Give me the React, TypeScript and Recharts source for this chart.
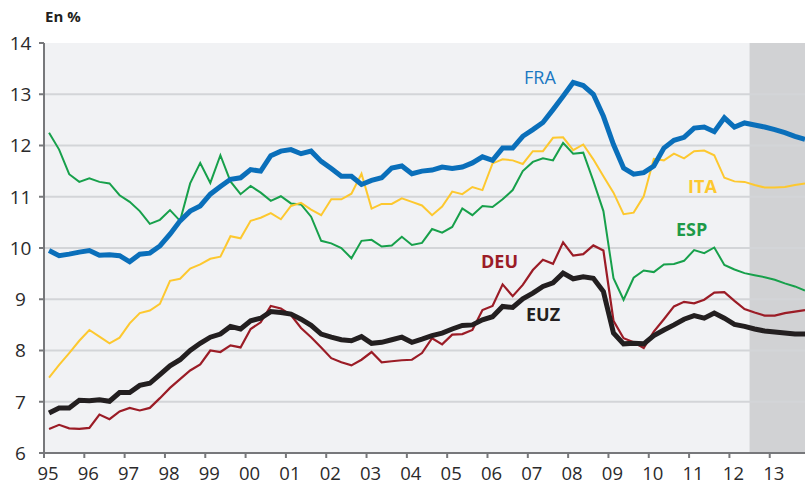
import React from "react";
import {
  LineChart,
  Line,
  XAxis,
  YAxis,
  CartesianGrid,
  ReferenceArea,
  ReferenceLine,
} from "recharts";

// quarterly unemployment rates, 1995Q1 - 2013Q4 (forecast from 2012Q3)
const START_YEAR = 1995;
const YEAR_TICKS = [
  1995, 1996, 1997, 1998, 1999, 2000, 2001, 2002, 2003, 2004, 2005, 2006,
  2007, 2008, 2009, 2010, 2011, 2012, 2013,
];
const Y_TICKS = [6, 7, 8, 9, 10, 11, 12, 13, 14];
const GRID_VALUES = [7, 8, 9, 10, 11, 12, 13];
const FORECAST_START = 2012.5;
const X_END = 2013.875;

const FRA = [
  9.95, 9.85, 9.88, 9.92, 9.95, 9.86, 9.87, 9.85, 9.73, 9.88, 9.9, 10.04,
  10.27, 10.53, 10.72, 10.82, 11.05, 11.2, 11.34, 11.37, 11.53, 11.5, 11.8,
  11.89, 11.92, 11.84, 11.89, 11.69, 11.55, 11.4, 11.4, 11.24, 11.32, 11.37,
  11.56, 11.6, 11.45, 11.5, 11.52, 11.58, 11.55, 11.58, 11.66, 11.78, 11.71,
  11.95, 11.95, 12.18, 12.31, 12.45, 12.7, 12.96, 13.23, 13.17, 13.0, 12.57,
  12.02, 11.56, 11.44, 11.47, 11.6, 11.95, 12.1, 12.16, 12.34, 12.36, 12.27,
  12.54, 12.36, 12.44, 12.4, 12.36, 12.31, 12.25, 12.18, 12.12,
];

const ESP = [
  12.25, 11.92, 11.44, 11.29, 11.36, 11.29, 11.26, 11.03, 10.9, 10.72, 10.47,
  10.55, 10.74, 10.53, 11.26, 11.66, 11.27, 11.81, 11.3, 11.05, 11.21, 11.08,
  10.92, 11.01, 10.87, 10.85, 10.61, 10.14, 10.09, 10.0, 9.8, 10.14, 10.16,
  10.03, 10.05, 10.22, 10.06, 10.1, 10.37, 10.3, 10.41, 10.77, 10.64, 10.82,
  10.8, 10.95, 11.13, 11.5, 11.68, 11.75, 11.71, 12.05, 11.84, 11.86, 11.31,
  10.72, 9.41, 8.99, 9.42, 9.56, 9.53, 9.68, 9.69, 9.75, 9.96, 9.9, 10.01,
  9.67, 9.58, 9.51, 9.47, 9.43, 9.38, 9.31, 9.25, 9.17,
];

const ITA = [
  7.47, 7.72, 7.95, 8.19, 8.4, 8.27, 8.14, 8.25, 8.53, 8.73, 8.78, 8.91, 9.36,
  9.4, 9.6, 9.68, 9.79, 9.83, 10.23, 10.19, 10.53, 10.59, 10.68, 10.56, 10.82,
  10.88, 10.75, 10.64, 10.95, 10.95, 11.06, 11.45, 10.77, 10.86, 10.86, 10.97,
  10.9, 10.83, 10.64, 10.81, 11.1, 11.05, 11.19, 11.13, 11.65, 11.73, 11.71,
  11.64, 11.89, 11.89, 12.15, 12.16, 11.91, 12.02, 11.73, 11.4, 11.08, 10.66,
  10.69, 11.01, 11.74, 11.71, 11.84, 11.75, 11.89, 11.9, 11.81, 11.37, 11.3,
  11.29, 11.23, 11.18, 11.18, 11.19, 11.23, 11.26,
];

const DEU = [
  6.47, 6.55, 6.48, 6.47, 6.49, 6.75, 6.66, 6.81, 6.88, 6.83, 6.88, 7.07, 7.27,
  7.44, 7.61, 7.73, 8.0, 7.97, 8.1, 8.06, 8.42, 8.55, 8.87, 8.82, 8.69, 8.44,
  8.26, 8.06, 7.85, 7.77, 7.71, 7.82, 7.97, 7.77, 7.79, 7.81, 7.82, 7.95, 8.24,
  8.12, 8.31, 8.32, 8.4, 8.79, 8.87, 9.29, 9.06, 9.28, 9.57, 9.77, 9.69, 10.11,
  9.85, 9.88, 10.05, 9.95, 8.58, 8.24, 8.16, 8.05, 8.37, 8.61, 8.86, 8.95,
  8.92, 8.99, 9.13, 9.14, 8.97, 8.81, 8.74, 8.68, 8.68, 8.73, 8.76, 8.79,
];

const EUZ = [
  6.78, 6.88, 6.88, 7.03, 7.02, 7.04, 7.01, 7.18, 7.18, 7.32, 7.36, 7.53, 7.7,
  7.82, 8.0, 8.14, 8.26, 8.32, 8.47, 8.42, 8.58, 8.63, 8.76, 8.74, 8.71, 8.61,
  8.49, 8.32, 8.26, 8.21, 8.19, 8.27, 8.14, 8.16, 8.21, 8.26, 8.16, 8.22, 8.29,
  8.34, 8.42, 8.49, 8.5, 8.6, 8.66, 8.86, 8.84, 9.01, 9.12, 9.25, 9.32, 9.51,
  9.4, 9.44, 9.41, 9.15, 8.34, 8.13, 8.14, 8.13, 8.29, 8.4, 8.5, 8.61, 8.68,
  8.63, 8.73, 8.63, 8.51, 8.47, 8.42, 8.38, 8.36, 8.34, 8.32, 8.32,
];

const FONT = "'Open Sans', 'DejaVu Sans', sans-serif";
const AXIS_COLOR = "#77787b";
const TEXT_COLOR = "#2b2a2b";

const chartData = FRA.map((_, i) => ({
  t: START_YEAR + (i + 0.5) / 4,
  FRA: FRA[i],
  ESP: ESP[i],
  ITA: ITA[i],
  DEU: DEU[i],
  EUZ: EUZ[i],
}));

const XTick = (props: any) => {
  const { x, y, payload } = props;
  const label = String(payload.value % 100).padStart(2, "0");
  return (
    <text
      x={x + 4}
      y={y + 11}
      textAnchor="middle"
      fill={TEXT_COLOR}
      fontSize={18.5}
      fontFamily={FONT}
    >
      {label}
    </text>
  );
};

// y labels are centred in the gutter left of the axis
const YTick = (props: any) => {
  const { y, payload } = props;
  return (
    <text
      x={20.5}
      y={y}
      dy="0.36em"
      textAnchor="middle"
      fill={TEXT_COLOR}
      fontSize={19}
      fontFamily={FONT}
    >
      {payload.value}
    </text>
  );
};

const labelStyle = (color: string, bold = true): React.CSSProperties => ({
  position: "absolute",
  color,
  fontFamily: FONT,
  fontSize: 18,
  fontWeight: bold ? 700 : 400,
  lineHeight: "18px",
  whiteSpace: "nowrap",
});

export default function App() {
  return (
    <div style={{ position: "relative", width: 805, height: 485 }}>
      <style>{`body{margin:0}`}</style>
      <LineChart
        width={805}
        height={485}
        data={chartData}
        margin={{ top: 43, right: 0, bottom: 0, left: 0 }}
      >
        <CartesianGrid vertical={false} horizontal={false} fill="#f1f2f4" />
        <ReferenceArea
          x1={FORECAST_START}
          x2={X_END}
          y1={6}
          y2={14}
          fill="#d1d2d4"
          fillOpacity={1}
          stroke="none"
        />
        {GRID_VALUES.map((v) => (
          <ReferenceLine key={v} y={v} stroke="#d3d5d8" strokeWidth={2} />
        ))}
        <XAxis
          dataKey="t"
          type="number"
          domain={[START_YEAR, X_END]}
          ticks={YEAR_TICKS}
          allowDataOverflow
          height={32}
          tickSize={5}
          tickMargin={11}
          stroke={AXIS_COLOR}
          strokeWidth={2}
          tick={<XTick />}
        />
        <YAxis
          domain={[6, 14]}
          ticks={Y_TICKS}
          width={44}
          tickSize={5}
          stroke={AXIS_COLOR}
          strokeWidth={2}
          tick={<YTick />}
        />
        <Line
          dataKey="ESP"
          type="linear"
          stroke="#17a04b"
          strokeWidth={2}
          dot={false}
          isAnimationActive={false}
        />
        <Line
          dataKey="ITA"
          type="linear"
          stroke="#fdc82f"
          strokeWidth={2}
          dot={false}
          isAnimationActive={false}
        />
        <Line
          dataKey="DEU"
          type="linear"
          stroke="#9b1c26"
          strokeWidth={2.2}
          dot={false}
          isAnimationActive={false}
        />
        <Line
          dataKey="EUZ"
          type="linear"
          stroke="#231f20"
          strokeWidth={5}
          dot={false}
          isAnimationActive={false}
        />
        <Line
          dataKey="FRA"
          type="linear"
          stroke="#0a6fba"
          strokeWidth={5}
          dot={false}
          isAnimationActive={false}
        />
      </LineChart>

      <div
        style={{
          position: "absolute",
          left: 45,
          top: 6,
          fontFamily: FONT,
          fontWeight: 700,
          fontSize: 15,
          color: "#231f20",
        }}
      >
        En %
      </div>
      <div style={{ ...labelStyle("#1a78c2", false), left: 524, top: 68 }}>FRA</div>
      <div style={{ ...labelStyle("#fdc82f"), left: 688, top: 177 }}>ITA</div>
      <div style={{ ...labelStyle("#1e9a48"), left: 676, top: 220 }}>ESP</div>
      <div style={{ ...labelStyle("#9b1c26"), left: 481, top: 252 }}>DEU</div>
      <div style={{ ...labelStyle("#231f20"), left: 526, top: 305 }}>EUZ</div>
    </div>
  );
}
